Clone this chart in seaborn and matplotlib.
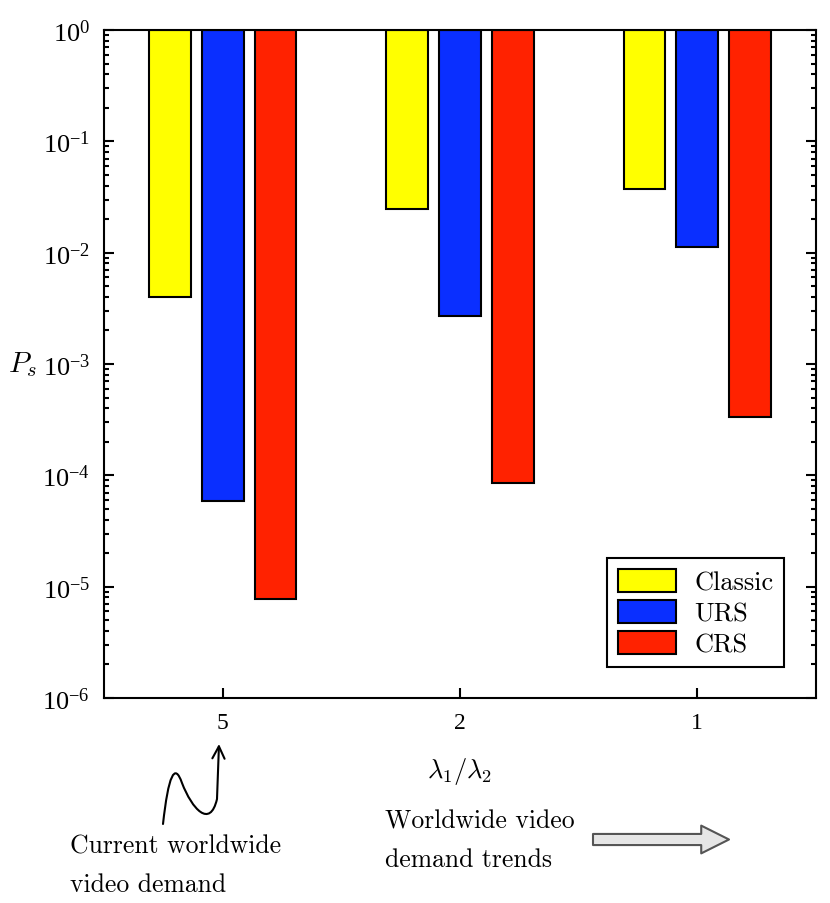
import matplotlib
matplotlib.use("Agg")
import matplotlib.pyplot as plt
from matplotlib.patches import Patch, FancyArrowPatch
from matplotlib.path import Path
import seaborn as sns
import pandas as pd

# data (bars hang down from P_s = 1)
ratios = ["5", "2", "1"]
schemes = ["Classic", "URS", "CRS"]
classic = [3.97e-3, 2.47e-2, 3.73e-2]
urs = [5.9e-5, 2.71e-3, 1.12e-2]
crs = [7.7e-6, 8.5e-5, 3.34e-4]
colors = ["#ffff00", "#0a2fff", "#ff2200"]

df = pd.DataFrame({
    "ratio": ratios * 3,
    "scheme": [s for s in schemes for _ in ratios],
    "Ps": classic + urs + crs,
})

sns.set_style("ticks")
plt.rcParams["font.family"] = ["Liberation Serif", "DejaVu Serif"]
plt.rcParams["mathtext.fontset"] = "cm"
plt.rcParams["axes.linewidth"] = 1.5
for key in ["text.color", "axes.labelcolor", "axes.edgecolor",
            "xtick.color", "ytick.color"]:
    plt.rcParams[key] = "black"

W, H = 830, 904
fig = plt.figure(figsize=(W / 100, H / 100), dpi=100)
ax = fig.add_axes([104 / W, 1 - 699 / H, 712 / W, 668 / H])


def px(x, y):
    # pixel position (from top-left) -> figure fraction
    return (x / W, 1 - y / H)


sns.barplot(
    data=df, x="ratio", y="Ps", hue="scheme", order=ratios, hue_order=schemes,
    palette=colors, width=0.667, gap=0.21, edgecolor="black", linewidth=1.5,
    saturation=1, legend=False, ax=ax,
)

# turn each bar into one that spans from its value up to 1
for p in ax.patches:
    h = p.get_height()
    p.set_y(h)
    p.set_height(1 - h)

ax.set_yscale("log")
ax.set_ylim(1e-6, 1)
ax.set_xlim(-0.5, 2.5)

ax.tick_params(which="both", direction="in", right=True, top=False,
               width=1.5, colors="black")
ax.tick_params(which="major", length=7)
ax.tick_params(which="minor", length=3.5)
ax.tick_params(axis="y", labelsize=19, pad=10)
ax.tick_params(axis="x", labelsize=17, pad=10)

ax.set_xlabel(r"$\lambda_1/\lambda_2$", fontsize=19, labelpad=16)
ax.set_ylabel(r"$P_s$", fontsize=21, rotation=0, va="center")
ax.yaxis.set_label_coords(-0.115, 0.5)

handles = [Patch(facecolor=c, edgecolor="black", linewidth=1.5) for c in colors]
leg = ax.legend(
    handles, schemes, loc="lower right", bbox_to_anchor=(0.955, 0.046),
    borderaxespad=0, fancybox=False, edgecolor="black", framealpha=1,
    prop={"family": "cmr10", "size": 19}, handlelength=2.2, handleheight=1.0,
    labelspacing=0.2, handletextpad=0.7, borderpad=0.4,
)
leg.get_frame().set_linewidth(1.5)

# annotations below the axes
fig.text(*px(70, 866), "Current worldwide\nvideo demand", family="cmr10",
         fontsize=18.5, ha="left", va="center", linespacing=1.75)
fig.text(*px(385, 841), "Worldwide video\ndemand trends", family="cmr10",
         fontsize=18.5, ha="left", va="center", linespacing=1.75)

verts = [px(163, 825), px(171, 752), px(182, 784),
         px(192, 810), px(210, 830), px(217, 800),
         px(219, 745)]
codes = [Path.MOVETO, Path.CURVE3, Path.CURVE3,
         Path.CURVE4, Path.CURVE4, Path.CURVE4,
         Path.LINETO]
squiggle = FancyArrowPatch(path=Path(verts, codes), arrowstyle="->",
                           mutation_scale=22, lw=1.5, color="black",
                           transform=fig.transFigure)
fig.add_artist(squiggle)

trend = FancyArrowPatch(
    px(593, 840.5), px(729, 840.5),
    arrowstyle="simple,head_length=20,head_width=20,tail_width=8",
    mutation_scale=1, shrinkA=0, shrinkB=0,
    facecolor="#e6e6e6", edgecolor="#555555", lw=1.5,
    transform=fig.transFigure,
)
fig.add_artist(trend)

fig.savefig("out.png", dpi=100)
